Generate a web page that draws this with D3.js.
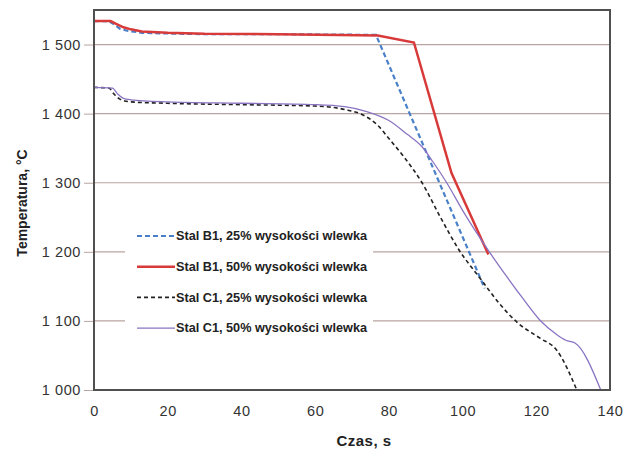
<!DOCTYPE html>
<html lang="pl">
<head>
<meta charset="UTF-8">
<title>Temperatura - czas</title>
<script src="https://d3js.org/d3.v7.min.js"></script>
<style>
    body { margin: 0; background: #fff; }
    text { font-family: "Liberation Sans", Arial, sans-serif; }
</style>
</head>
<body>
<div id="chart"></div>
<script>
    // values: [czas s, temperatura °C]
    var stalB1_25 = [[0,1534],[4,1534],[5.5,1529],[7,1523],[9,1520],[13,1517],[20,1516],[30,1515],[50,1515],[76.5,1514],[106,1147]];
    var stalB1_50 = [[0,1534],[4.5,1534],[6,1530],[8,1525],[10,1522],[13,1519],[20,1517],[30,1515.5],[50,1515],[77,1513],[86.8,1503],[97,1314],[107,1196]];
    var stalC1_25 = [[0,1438],[4,1437],[5.5,1428],[7,1421],[10,1417],[20,1415],[40,1413],[60,1411],[68,1406],[73,1398],[77,1383],[80,1364],[84,1338],[89,1300],[94,1250],[99,1203],[105,1160],[110,1125],[115,1097],[121,1075],[125.5,1058],[131,1000]];
    var stalC1_50 = [[0,1438],[5,1437],[6.5,1428],[8,1422],[10,1420],[20,1417],[40,1415],[60,1413],[68,1410],[74,1403],[80,1390],[85,1370],[89,1352],[92,1330],[95.7,1300],[100,1260],[107.5,1198],[112,1164],[116,1135],[121,1101],[125.6,1080],[128,1072],[130.5,1068],[137.5,1000]];

    var seriesNames = ["Stal B1, 25% wysokości wlewka", "Stal B1, 50% wysokości wlewka",
                       "Stal C1, 25% wysokości wlewka", "Stal C1, 50% wysokości wlewka"];
    var xTicks = [0, 20, 40, 60, 80, 100, 120, 140];
    var yTicks = [1000, 1100, 1200, 1300, 1400, 1500];

    var series = [
        { name: seriesNames[0], data: stalB1_25, color: "#4a80c8", width: 2.2, dash: "5,3", curve: d3.curveLinear },
        { name: seriesNames[1], data: stalB1_50, color: "#d83a3a", width: 2.5, dash: null, curve: d3.curveLinear },
        { name: seriesNames[2], data: stalC1_25, color: "#222222", width: 1.6, dash: "4,3", curve: d3.curveMonotoneX },
        { name: seriesNames[3], data: stalC1_50, color: "#8a74c2", width: 1.3, dash: null, curve: d3.curveMonotoneX }
    ];

    // plot area
    var margin = { top: 10, right: 23, bottom: 64, left: 94 },
        width = 633 - margin.left - margin.right,
        height = 454 - margin.top - margin.bottom;

    var svg = d3.select("#chart")
        .append("svg")
        .attr("width", 633)
        .attr("height", 454);

    var g = svg.append("g")
        .attr("transform", "translate(" + margin.left + "," + margin.top + ")");

    var x = d3.scaleLinear().domain([0, 140]).range([0, width]);
    var y = d3.scaleLinear().domain([1000, 1550]).range([height, 0]);

    // horizontal grid
    g.append("g")
        .selectAll("line")
        .data(yTicks.slice(1))
        .enter()
        .append("line")
        .attr("x1", 0)
        .attr("x2", width)
        .attr("y1", function (d) { return y(d); })
        .attr("y2", function (d) { return y(d); })
        .attr("stroke", "#b8a4a0")
        .attr("stroke-width", 1.2);

    // y axis
    var yAxis = g.append("g")
        .call(d3.axisLeft(y).tickValues(yTicks).tickSize(10).tickPadding(3)
            .tickFormat(function (d) { return d3.format(",")(d).replace(",", " "); }));
    yAxis.select(".domain").remove();
    yAxis.selectAll("line").attr("stroke", "#b8a4a0");
    yAxis.selectAll("text").attr("fill", "#333").style("font-size", "14.5px").style("letter-spacing", "0.6px");

    // x axis
    var xAxis = g.append("g")
        .attr("transform", "translate(0," + height + ")")
        .call(d3.axisBottom(x).tickValues(xTicks).tickSize(0).tickPadding(16));
    xAxis.select(".domain").remove();
    xAxis.selectAll("text").attr("fill", "#333").style("font-size", "14.5px").style("letter-spacing", "0.6px");

    // legend background hides the grid behind it
    var legend = g.append("g");
    legend.append("rect")
        .attr("x", 31).attr("y", 207)
        .attr("width", 248).attr("height", 133)
        .attr("fill", "#fff");

    // lines
    series.forEach(function (s) {
        var line = d3.line()
            .curve(s.curve)
            .x(function (d) { return x(d[0]); })
            .y(function (d) { return y(d[1]); });
        g.append("path")
            .datum(s.data)
            .attr("fill", "none")
            .attr("stroke", s.color)
            .attr("stroke-width", s.width)
            .attr("stroke-dasharray", s.dash)
            .attr("d", line);
    });

    // legend entries
    series.forEach(function (s, i) {
        var ly = 226 + i * 30.7;
        legend.append("line")
            .attr("x1", 43).attr("x2", 81)
            .attr("y1", ly).attr("y2", ly)
            .attr("stroke", s.color)
            .attr("stroke-width", s.width)
            .attr("stroke-dasharray", s.dash);
        legend.append("text")
            .attr("x", 82).attr("y", ly)
            .attr("dy", "0.35em")
            .attr("fill", "#222")
            .style("font-size", "12.5px")
            .style("font-weight", "bold")
            .attr("textLength", 191)
            .attr("lengthAdjust", "spacingAndGlyphs")
            .text(s.name);
    });

    // frame
    g.append("rect")
        .attr("width", width)
        .attr("height", height)
        .attr("fill", "none")
        .attr("stroke", "#505050")
        .attr("stroke-width", 2);

    // axis titles
    svg.append("text")
        .attr("x", 364).attr("y", 446)
        .attr("text-anchor", "middle")
        .attr("fill", "#222")
        .style("font-size", "15px")
        .style("font-weight", "bold")
        .style("letter-spacing", "0.5px")
        .text("Czas, s");

    svg.append("text")
        .attr("transform", "translate(27," + (margin.top + height / 2 + 3) + ") rotate(-90)")
        .attr("text-anchor", "middle")
        .attr("fill", "#222")
        .style("font-size", "14px")
        .style("font-weight", "bold")
        .text("Temperatura, °C");
</script>
</body>
</html>
